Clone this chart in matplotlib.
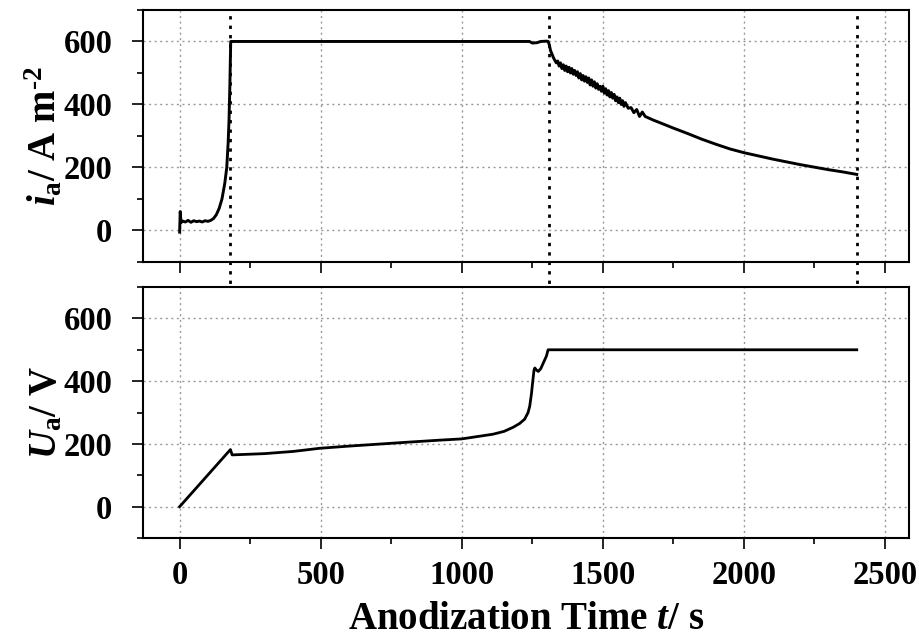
import matplotlib
matplotlib.use("Agg")
import matplotlib.pyplot as plt
from matplotlib.ticker import MultipleLocator

# anodic current density i_a (A m^-2) vs time (s)
time_i = [0, 2, 5, 10, 20, 30, 40, 50, 60, 70, 80, 90, 100, 110, 120, 130,
          140, 150, 160, 167, 172, 175, 178, 181, 200, 400, 800, 1200, 1240,
          1250, 1266, 1280, 1300, 1306, 1310, 1315, 1320, 1325, 1330, 1335,
          1340, 1345, 1350, 1355, 1360, 1365, 1370, 1375, 1380, 1385, 1390,
          1395, 1400, 1405, 1410, 1415, 1420, 1425, 1430, 1435, 1440, 1445,
          1450, 1455, 1460, 1465, 1470, 1475, 1480, 1485, 1490, 1495, 1500,
          1505, 1510, 1515, 1520, 1525, 1530, 1535, 1540, 1545, 1550, 1555,
          1560, 1565, 1570, 1575, 1580, 1590, 1600, 1610, 1620, 1630, 1640,
          1650, 1660, 1680, 1700, 1725, 1750, 1800, 1850, 1900, 1950, 2000,
          2050, 2100, 2150, 2200, 2250, 2300, 2350, 2400]
current = [-5, 60, 25, 30, 27, 32, 26, 31, 28, 30, 27, 31, 29, 32, 38, 50,
           70, 100, 150, 200, 280, 350, 460, 600, 600, 600, 600, 600, 600,
           595, 596, 600, 601, 600, 590, 570, 560, 548, 540, 532,
           538, 522, 532, 514, 526, 508, 522, 504, 518, 500, 514,
           496, 508, 492, 504, 484, 498, 478, 492, 474, 488, 470,
           484, 462, 478, 458, 472, 452, 466, 448, 458, 442, 458,
           436, 450, 430, 444, 424, 438, 420, 432, 412, 424, 406,
           420, 400, 412, 394, 406, 388, 390, 374, 384, 362, 376,
           362, 358, 350, 343, 334, 325, 308, 290, 274, 259, 247,
           237, 227, 218, 209, 201, 193, 186, 178]

# anodic voltage U_a (V) vs time (s)
time_u = [0, 180, 186, 300, 402, 496, 600, 700, 800, 922, 1000, 1111, 1150,
          1182, 1205, 1223, 1235, 1241, 1247, 1251, 1256, 1259, 1264, 1271,
          1280, 1286, 1294, 1300, 1306, 2400]
voltage = [0, 182, 165, 169, 176, 186, 193, 199, 205, 212, 216, 231, 240,
           253, 265, 279, 300, 321, 360, 395, 435, 442, 436, 431,
           440, 452, 468, 480, 500, 500]

# stage boundaries (s)
stage_marks = [180, 1308, 2402]

plt.rcParams["font.family"] = ["Liberation Serif", "DejaVu Serif"]
plt.rcParams["font.weight"] = "bold"
plt.rcParams["axes.labelweight"] = "bold"
plt.rcParams["mathtext.fontset"] = "custom"
plt.rcParams["mathtext.rm"] = "Liberation Serif:bold"
plt.rcParams["mathtext.it"] = "Liberation Serif:italic:bold"
plt.rcParams["mathtext.bf"] = "Liberation Serif:bold"

fig = plt.figure(figsize=(9.2, 6.39), dpi=100)
ax1 = fig.add_axes([0.1554, 0.59, 0.8326, 0.3944])
ax2 = fig.add_axes([0.1554, 0.158, 0.8326, 0.3928])

ax1.plot(time_i, current, color="black", lw=2.1)
ax2.plot(time_u, voltage, color="black", lw=2.0)

for ax in (ax1, ax2):
    ax.set_xlim(-130, 2585)
    ax.set_ylim(-100, 700)
    ax.xaxis.set_major_locator(MultipleLocator(500))
    ax.xaxis.set_minor_locator(MultipleLocator(250))
    ax.yaxis.set_major_locator(MultipleLocator(200))
    ax.yaxis.set_minor_locator(MultipleLocator(100))
    ax.grid(True, which="major", color="#999999", ls=(0, (1.5, 2.5)), lw=1)
    ax.tick_params(which="major", direction="out", length=8, width=1.2,
                   labelsize=23.5)
    ax.tick_params(which="minor", direction="out", length=4, width=1.2)
    ax.tick_params(axis="y", which="major", pad=14)
    ax.tick_params(axis="x", which="major", pad=8)
    for s in ax.spines.values():
        s.set_linewidth(1.5)

ax1.tick_params(labelbottom=False)

# dotted stage lines spanning both panels
for t in stage_marks:
    ax1.axvline(t, ymin=-1.06, ymax=0.99, color="black",
                ls=(0, (1.2, 2.2)), lw=2.0, clip_on=False)

ax1.set_ylabel("$i_{\\rm a}$/ A m$^{\u2010 2}$", fontsize=28)
ax2.set_ylabel(r"$U_{\rm a}$/ V", fontsize=28)
ax1.yaxis.set_label_coords(-0.102, 0.5)
ax2.yaxis.set_label_coords(-0.102, 0.5)
ax2.set_xlabel(r"Anodization Time $t$/ s", fontsize=28)
ax2.xaxis.set_label_coords(0.5, -0.25)

fig.savefig("out.png", dpi=100)
